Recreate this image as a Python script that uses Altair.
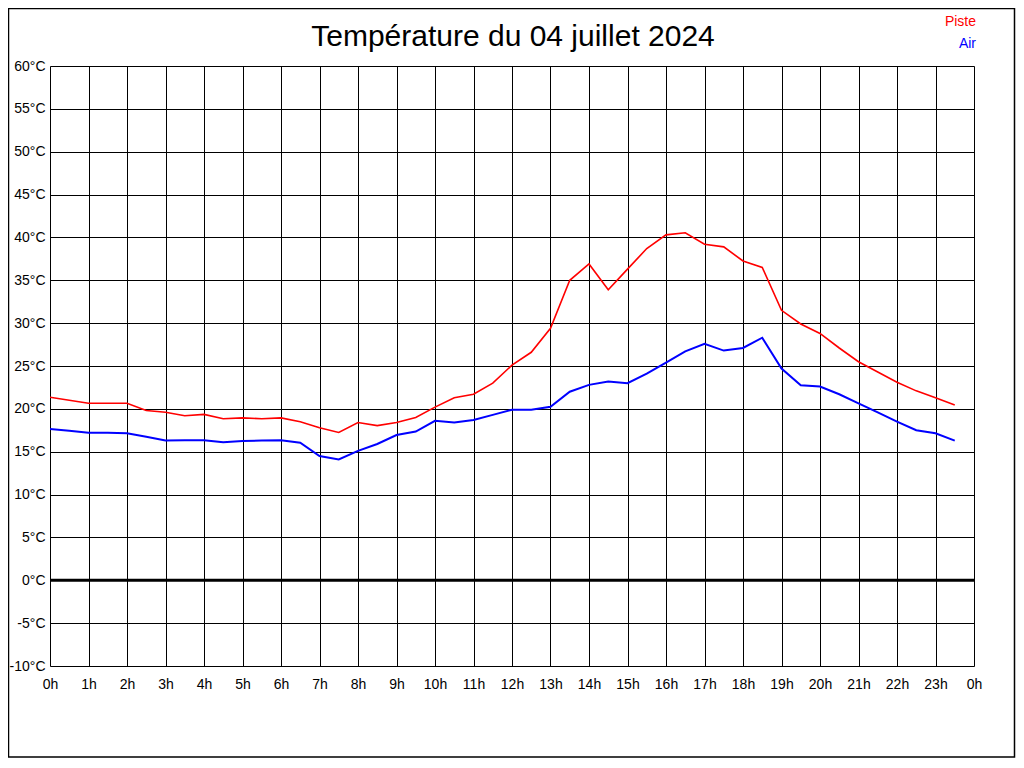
import altair as alt
import pandas as pd

hours = [i * 0.5 for i in range(48)]
piste = [21.35, 21.0, 20.65, 20.65, 20.65, 19.8, 19.6, 19.2, 19.35, 18.85, 18.95, 18.85,
         18.95, 18.5, 17.8, 17.25, 18.4, 18.05, 18.4, 19.0, 20.2, 21.3, 21.7, 23.0,
         25.1, 26.6, 29.4, 35.0, 36.9, 33.9, 36.3, 38.7, 40.3, 40.55, 39.2, 38.9,
         37.25, 36.5, 31.5, 29.9, 28.8, 27.1, 25.5, 24.3, 23.1, 22.1, 21.3, 20.45]
air = [17.65, 17.45, 17.2, 17.2, 17.15, 16.75, 16.3, 16.35, 16.35, 16.1, 16.25, 16.3,
       16.35, 16.05, 14.5, 14.1, 15.1, 15.9, 16.95, 17.35, 18.6, 18.4, 18.7, 19.3,
       19.9, 19.9, 20.25, 22.0, 22.8, 23.2, 23.0, 24.1, 25.4, 26.7, 27.6, 26.8,
       27.1, 28.3, 24.7, 22.75, 22.6, 21.7, 20.65, 19.6, 18.5, 17.5, 17.15, 16.3]
series_names = ["Piste", "Air"]
series_colors = ["#ff0000", "#0000ff"]
y_ticks = list(range(-10, 65, 5))
x_ticks = list(range(0, 25))
title_text = "Température du 04 juillet 2024"

FONT = "Liberation Sans"
W, H = 924, 600

df = pd.DataFrame({
    "h": hours + hours,
    "t": piste + air,
    "s": ["Piste"] * len(piste) + ["Air"] * len(air),
})
legend_df = pd.DataFrame({"s": series_names})
zero_df = pd.DataFrame({"t": [0]})
title_df = pd.DataFrame({"txt": [title_text]})
frame_df = pd.DataFrame({"k": [0]})

xscale = alt.Scale(domain=[0, 24], nice=False, zero=False)
yscale = alt.Scale(domain=[-10, 60], nice=False)
cscale = alt.Scale(domain=series_names, range=series_colors)

lines = alt.Chart(df).mark_line(clip=True).encode(
    x=alt.X("h:Q", scale=xscale, title=None,
            axis=alt.Axis(values=x_ticks, labelExpr="(datum.value % 24) + 'h'",
                          grid=True, gridColor="#000000", gridOpacity=1, gridWidth=1,
                          ticks=False, domain=False, labelPadding=11, labelFlush=False,
                          labelFont=FONT, labelFontSize=14, labelColor="#000000")),
    y=alt.Y("t:Q", scale=yscale, title=None,
            axis=alt.Axis(values=y_ticks, labelExpr="datum.value + '°C'",
                          grid=True, gridColor="#000000", gridOpacity=1, gridWidth=1,
                          ticks=False, domain=False, labelPadding=5, labelFlush=False,
                          labelFont=FONT, labelFontSize=14, labelColor="#000000")),
    color=alt.Color("s:N", scale=cscale, legend=None),
    strokeWidth=alt.StrokeWidth("s:N", scale=alt.Scale(domain=series_names, range=[1.6, 2.0]), legend=None),
    detail="s:N",
)

zero = alt.Chart(zero_df).mark_rule(color="#000000", strokeWidth=3).encode(
    y=alt.Y("t:Q", scale=yscale)
)

legend_layers = []
for i, name in enumerate(series_names):
    legend_layers.append(
        alt.Chart(legend_df).transform_filter(alt.datum.s == name)
        .mark_text(align="right", baseline="middle", font=FONT, fontSize=14)
        .encode(
            x=alt.value(W + 2),
            y=alt.value(-44 + 22 * i),
            text="s:N",
            color=alt.Color("s:N", scale=cscale, legend=None),
        )
    )

title = alt.Chart(title_df).mark_text(align="center", baseline="middle", font=FONT, fontSize=30).encode(
    x=alt.value(W / 2 + 1),
    y=alt.value(-29),
    text="txt:N",
)

frame = alt.Chart(frame_df).mark_rect(fill=None, stroke="#000000", strokeWidth=1.5, clip=False).encode(
    x=alt.value(-41.5), x2=alt.value(W + 40.5),
    y=alt.value(-57.5), y2=alt.value(H + 91),
)

chart = alt.layer(frame, zero, lines, *legend_layers, title).properties(
    width=W, height=H,
    autosize=alt.AutoSizeParams(type="none"),
    padding={"left": 42, "top": 58, "right": 42, "bottom": 92},
).configure_view(stroke="#000000", strokeWidth=1.5).configure(background="#ffffff")

chart.save("out.html", embed_options={"renderer": "svg", "actions": False})
